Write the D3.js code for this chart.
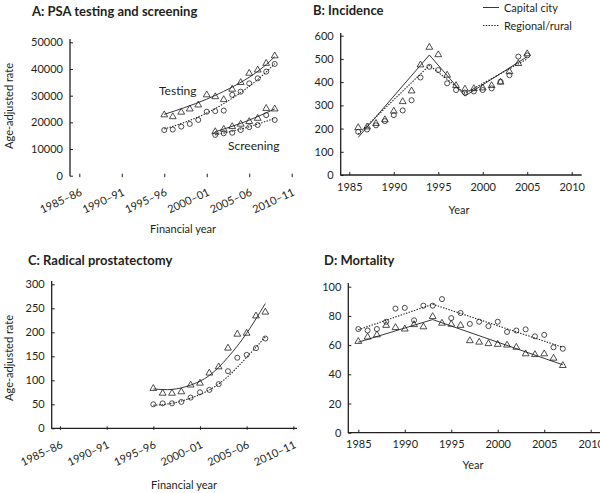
<!DOCTYPE html>
<html>
<head>
<meta charset="utf-8">
<script src="https://cdn.jsdelivr.net/npm/d3@7"></script>
<style>
  body { margin: 0; background: #fff; }
  svg { display: block; font-family: Lato, "Open Sans", sans-serif; }
</style>
</head>
<body>
<svg id="chart" width="600" height="493"></svg>
<script>
const ink = "#231f20";

// shared x ticks
const tick_years = [1985, 1990, 1995, 2000, 2005, 2010];
const fin_labels = ["1985–86", "1990–91", "1995–96", "2000–01", "2005–06", "2010–11"];

// A: PSA testing and screening (age-adjusted rate)
const a_years = [1995, 1996, 1997, 1998, 1999, 2000, 2001, 2002, 2003, 2004, 2005, 2006, 2007, 2008];
const a_test_capital = [22800, 22100, 23800, 25000, 26500, 30300, 29600, 28500, 32400, 34900, 38400, 39600, 42100, 44900];
const a_test_regional = [17100, 17300, 18400, 19400, 20900, 24000, 24200, 24400, 30300, 31500, 34600, 36500, 39000, 41900];
const a_screen_years = [2001, 2002, 2003, 2004, 2005, 2006, 2007, 2008];
const a_screen_capital = [16500, 17400, 18400, 19300, 20300, 21500, 25200, 25000];
const a_screen_regional = [15300, 15900, 16100, 17100, 18200, 19000, 22700, 20900];
const a_fit_years = [1995, 2000, 2005, 2008];
const a_fit_test_capital = [23000, 28700, 36900, 44600];
const a_fit_test_regional = [17500, 23500, 33500, 42000];
const a_fit_screen_years = [2001, 2004.5, 2008];
const a_fit_screen_capital = [16500, 20200, 25000];
const a_fit_screen_regional = [15300, 17900, 21500];
const a_y_ticks = [0, 10000, 20000, 30000, 40000, 50000];

// B: Incidence
const b_years = [1986, 1987, 1988, 1989, 1990, 1991, 1992, 1993, 1994, 1995, 1996, 1997, 1998, 1999, 2000, 2001, 2002, 2003, 2004, 2005];
const b_capital = [204, 207, 222, 238, 275, 316, 362, 474, 550, 518, 430, 385, 370, 372, 375, 385, 400, 445, 480, 522];
const b_regional = [186, 196, 214, 232, 258, 278, 322, 420, 466, 452, 395, 366, 355, 360, 366, 373, 402, 430, 510, 515];
const b_fit_years = [1986, 1994, 1998, 2005];
const b_fit_capital = [162, 517, 340, 510];
const b_fit_regional = [176, 472, 352, 500];
const b_y_ticks = [0, 100, 200, 300, 400, 500, 600];

// C: Radical prostatectomy
const c_years = [1995, 1996, 1997, 1998, 1999, 2000, 2001, 2002, 2003, 2004, 2005, 2006, 2007];
const c_capital = [83, 73, 73, 76, 90, 94, 115, 128, 167, 196, 198, 234, 242];
const c_regional = [50, 52, 52, 55, 64, 75, 80, 92, 119, 147, 153, 167, 187];
const c_fit_years = [1995, 1997, 1999, 2001, 2003, 2005, 2007];
const c_fit_capital = [82, 81, 90, 110, 148, 198, 260];
const c_fit_regional = [48, 52, 63, 80, 108, 148, 190];
const c_y_ticks = [0, 50, 100, 150, 200, 250, 300];

// D: Mortality
const d_years = [1985, 1986, 1987, 1988, 1989, 1990, 1991, 1992, 1993, 1994, 1995, 1996, 1997, 1998, 1999, 2000, 2001, 2002, 2003, 2004, 2005, 2006, 2007];
const d_capital = [62.5, 65.5, 67, 73.5, 72, 71, 74, 72.5, 79.5, 75, 74.3, 73.5, 63, 62, 61, 60.5, 60, 58.5, 54, 53.5, 54, 51, 46];
const d_regional = [71, 70, 71, 76, 85, 85.5, 77, 87, 87, 91.5, 78.5, 82, 74.5, 76, 73, 76, 69, 70, 70.8, 66, 67, 58.5, 57.5];
const d_fit_years = [1985, 1993, 2007];
const d_fit_capital = [62, 77.5, 46.5];
const d_fit_regional = [70.5, 88, 58.5];
const d_y_ticks = [0, 20, 40, 60, 80, 100];

const svg = d3.select("#chart");

const tri_path = d3.symbol(d3.symbolTriangle, 20)();
const circ_path = d3.symbol(d3.symbolCircle, 20)();

function pairs(xs, ys) {
  return xs.map((v, i) => [v, ys[i]]);
}

function drawTitle(text, x, y) {
  svg.append("text")
    .attr("x", x).attr("y", y)
    .attr("font-size", 13).attr("font-weight", "bold")
    .attr("fill", ink)
    .text(text);
}

function drawLabel(text, x, y, rotate) {
  svg.append("text")
    .attr("transform", `translate(${x},${y})` + (rotate ? " rotate(-90)" : ""))
    .attr("text-anchor", "middle")
    .attr("font-size", 11)
    .attr("fill", ink)
    .text(text);
}

function styleAxis(g) {
  g.attr("font-family", null);
  g.selectAll(".tick line").attr("stroke", ink).attr("stroke-width", 1);
  g.selectAll(".tick text").attr("fill", ink).attr("font-size", 11);
}

function drawAxes(lay, x, y) {
  const y0 = y.range()[0];
  // axis lines
  svg.append("line")
    .attr("x1", lay.axis_x).attr("x2", lay.axis_x)
    .attr("y1", lay.axis_top).attr("y2", y0 + 0.5)
    .attr("stroke", ink).attr("stroke-width", 1.3);
  if (lay.x_end)
    svg.append("line")
      .attr("x1", lay.axis_x).attr("x2", lay.x_end)
      .attr("y1", y0).attr("y2", y0)
      .attr("stroke", ink).attr("stroke-width", 1.3);

  const ya = svg.append("g")
    .attr("transform", `translate(${lay.axis_x},0)`)
    .call(
      d3.axisLeft(y)
        .tickValues(lay.y_ticks)
        .tickFormat(d3.format("d"))
        .tickSizeInner(-3)
        .tickSizeOuter(0)
        .tickPadding(7)
    );
  ya.select(".domain").remove();
  styleAxis(ya);

  const xa = svg.append("g")
    .attr("transform", `translate(0,${y0})`)
    .call(
      d3.axisBottom(x)
        .tickValues(tick_years)
        .tickSizeInner(-3)
        .tickSizeOuter(0)
        .tickPadding(8)
        .tickFormat((d, i) => (lay.financial ? fin_labels[i] : d))
    );
  xa.select(".domain").remove();
  if (lay.financial) xa.selectAll(".tick line").attr("y1", 1.5).attr("y2", -2);
  styleAxis(xa);
  if (lay.financial) {
    xa.selectAll(".tick text")
      .attr("x", 0).attr("y", 0).attr("dy", 0)
      .attr("text-anchor", "end")
      .attr("transform", "translate(3,19) rotate(-25)");
  }
}

function drawPoints(x, y, xs, ys, shape) {
  svg.append("g")
    .selectAll("path")
    .data(pairs(xs, ys))
    .join("path")
    .attr("transform", (d) => `translate(${x(d[0])},${y(d[1])})`)
    .attr("d", shape === "tri" ? tri_path : circ_path)
    .attr("fill", "none")
    .attr("stroke", ink)
    .attr("stroke-width", 0.8);
}

function drawFit(x, y, xs, ys, dotted, curved) {
  const line = d3.line()
    .x((d) => x(d[0]))
    .y((d) => y(d[1]))
    .curve(curved ? d3.curveNatural : d3.curveLinear);
  svg.append("path")
    .datum(pairs(xs, ys))
    .attr("d", line)
    .attr("fill", "none")
    .attr("stroke", ink)
    .attr("stroke-width", dotted ? 1.1 : 0.9)
    .attr("stroke-dasharray", dotted ? "1.4,1.4" : null);
}

function makeScales(lay) {
  const x = d3.scaleLinear().domain([1985, 2010]).range(lay.x_range);
  const y = d3.scaleLinear().domain([0, d3.max(lay.y_ticks)]).range(lay.y_range);
  return [x, y];
}

// ---- Panel A
function drawPanelA() {
  const lay = { x_range: [79.3, 291.7], y_range: [175.7, 42.3], axis_x: 70, axis_top: 39, x_end: null, y_ticks: a_y_ticks, financial: true };
  const [x, y] = makeScales(lay);
  drawTitle("A: PSA testing and screening", 32, 16);
  drawAxes(lay, x, y);
  drawPoints(x, y, a_years, a_test_capital, "tri");
  drawPoints(x, y, a_years, a_test_regional, "circ");
  drawPoints(x, y, a_screen_years, a_screen_capital, "tri");
  drawPoints(x, y, a_screen_years, a_screen_regional, "circ");
  drawFit(x, y, a_fit_years, a_fit_test_capital, false, true);
  drawFit(x, y, a_fit_years, a_fit_test_regional, true, true);
  drawFit(x, y, a_fit_screen_years, a_fit_screen_capital, false, true);
  drawFit(x, y, a_fit_screen_years, a_fit_screen_regional, true, true);
  svg.append("text").attr("x", 159).attr("y", 95).attr("font-size", 12).attr("fill", ink).text("Testing");
  svg.append("text").attr("x", 228).attr("y", 150).attr("font-size", 12).attr("fill", ink).text("Screening");
  drawLabel("Age-adjusted rate", 13, 106, true);
  drawLabel("Financial year", 183, 233, false);
}

// ---- Panel B
function drawPanelB() {
  const lay = { x_range: [349.3, 571.7], y_range: [175, 35.7], axis_x: 340.7, axis_top: 33, x_end: 581.7, y_ticks: b_y_ticks, financial: false };
  const [x, y] = makeScales(lay);
  drawTitle("B: Incidence", 313, 15);
  drawAxes(lay, x, y);
  drawPoints(x, y, b_years, b_capital, "tri");
  drawPoints(x, y, b_years, b_regional, "circ");
  drawFit(x, y, b_fit_years, b_fit_capital, false, false);
  drawFit(x, y, b_fit_years, b_fit_regional, true, false);
  drawLabel("Year", 459, 214, false);

  // legend
  const legend = svg.append("g").attr("transform", "translate(483,0)");
  legend.append("line").attr("x1", 0).attr("x2", 16).attr("y1", 7.5).attr("y2", 7.5).attr("stroke", ink).attr("stroke-width", 0.9);
  legend.append("line").attr("x1", 0).attr("x2", 16).attr("y1", 25.5).attr("y2", 25.5).attr("stroke", ink).attr("stroke-width", 1.1).attr("stroke-dasharray", "1.4,1.4");
  legend.append("text").attr("x", 21).attr("y", 11.5).attr("font-size", 11).attr("fill", ink).text("Capital city");
  legend.append("text").attr("x", 21).attr("y", 29.5).attr("font-size", 11).attr("fill", ink).text("Regional/rural");
}

// ---- Panel C
function drawPanelC() {
  const lay = { x_range: [60, 293.3], y_range: [428.3, 284.3], axis_x: 51.7, axis_top: 281, x_end: 297, y_ticks: c_y_ticks, financial: true };
  const [x, y] = makeScales(lay);
  drawTitle("C: Radical prostatectomy", 28, 265);
  drawAxes(lay, x, y);
  drawPoints(x, y, c_years, c_capital, "tri");
  drawPoints(x, y, c_years, c_regional, "circ");
  drawFit(x, y, c_fit_years, c_fit_capital, false, true);
  drawFit(x, y, c_fit_years, c_fit_regional, true, true);
  drawLabel("Age-adjusted rate", 13, 358, true);
  drawLabel("Financial year", 184, 489, false);
}

// ---- Panel D
function drawPanelD() {
  const lay = { x_range: [358.3, 590.7], y_range: [432.7, 286.7], axis_x: 348.3, axis_top: 283, x_end: 600, y_ticks: d_y_ticks, financial: false };
  const [x, y] = makeScales(lay);
  drawTitle("D: Mortality", 324, 265);
  drawAxes(lay, x, y);
  drawPoints(x, y, d_years, d_capital, "tri");
  drawPoints(x, y, d_years, d_regional, "circ");
  drawFit(x, y, d_fit_years, d_fit_capital, false, false);
  drawFit(x, y, d_fit_years, d_fit_regional, true, false);
  drawLabel("Year", 473, 469, false);
}

drawPanelA();
drawPanelB();
drawPanelC();
drawPanelD();
</script>
</body>
</html>
